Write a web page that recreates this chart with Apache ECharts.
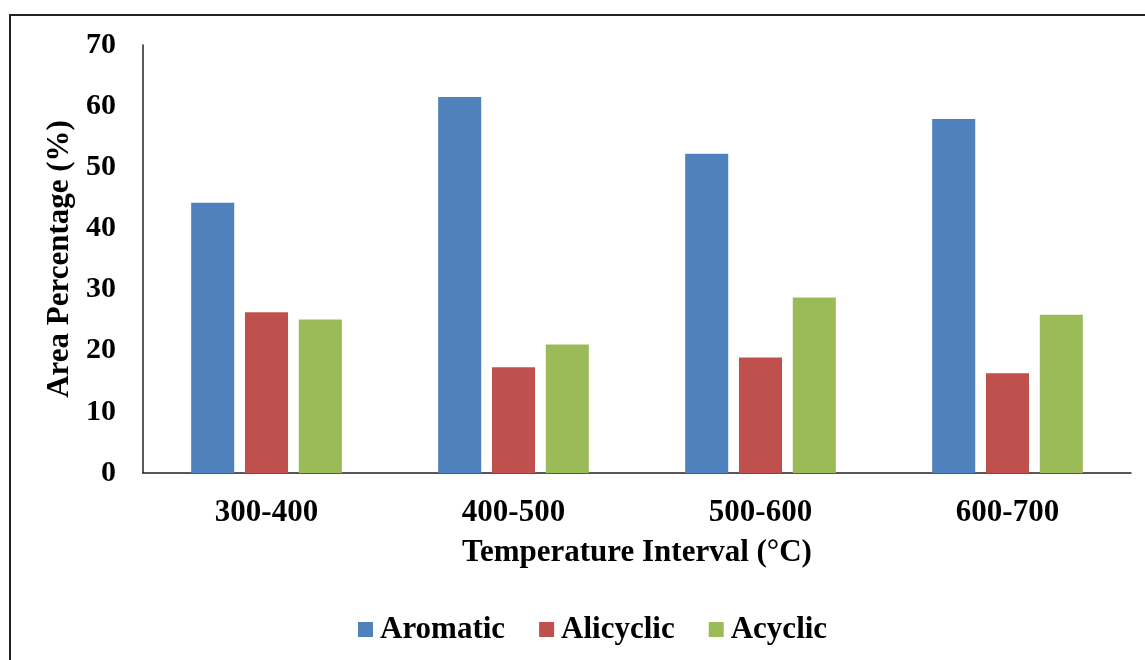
<!DOCTYPE html>
<html><head><meta charset="utf-8">
<script src="https://cdn.jsdelivr.net/npm/echarts@6/dist/echarts.min.js"></script>
<style>
html,body{margin:0;padding:0;background:#fff;}
#frame{position:absolute;left:9px;top:14px;width:1150px;height:660px;border:2px solid #222;box-sizing:border-box;}
#c{position:absolute;left:0;top:0;width:1145px;height:660px;}
</style></head><body>
<div id="frame"></div>
<div id="c"></div>
<script>
const categories = ['300-400','400-500','500-600','600-700'];
const seriesNames = ['Aromatic','Alicyclic','Acyclic'];
const aromatic = [44.2, 61.5, 52.2, 57.9];
const alicyclic = [26.3, 17.3, 18.9, 16.3];
const acyclic = [25.1, 21.0, 28.7, 25.9];
const colors = ['#4F81BD','#C0504D','#9BBB59'];
const font = 'Liberation Serif';
const chart = echarts.init(document.getElementById('c'));
const vals = [aromatic, alicyclic, acyclic];
chart.setOption({
  animation:false,
  color: colors,
  grid:{left:143, top:45, right:14, bottom:187, containLabel:false},
  legend:{
    data: seriesNames, bottom:10, left:353, itemWidth:15, itemHeight:15, itemGap:34,
    icon:'rect',
    textStyle:{fontFamily:font, fontWeight:'bold', fontSize:31, color:'#000', padding:[0,0,0,2]}
  },
  xAxis:{
    type:'category', data:categories,
    name:'Temperature Interval (°C)', nameLocation:'middle', nameGap:64,
    nameTextStyle:{fontFamily:font, fontWeight:'bold', fontSize:31, color:'#000'},
    axisLine:{lineStyle:{color:'#222', width:1.5}},
    axisTick:{show:false},
    axisLabel:{fontFamily:font, fontWeight:'bold', fontSize:31, color:'#000', margin:24}
  },
  yAxis:{
    type:'value', min:0, max:70, interval:10,
    name:'Area Percentage (%)', nameLocation:'middle', nameGap:61,
    nameTextStyle:{fontFamily:font, fontWeight:'bold', fontSize:31, color:'#000'},
    axisLine:{show:true, lineStyle:{color:'#222', width:1.5}},
    axisTick:{show:false},
    splitLine:{show:false},
    axisLabel:{fontFamily:font, fontWeight:'bold', fontSize:30, color:'#000', margin:27}
  },
  series: seriesNames.map((n,i)=>({
    name:n, type:'bar', data: vals[i],
    barGap:'25%', barCategoryGap:'39%',
    itemStyle:{color:colors[i]}
  }))
});
</script>
</body></html>
